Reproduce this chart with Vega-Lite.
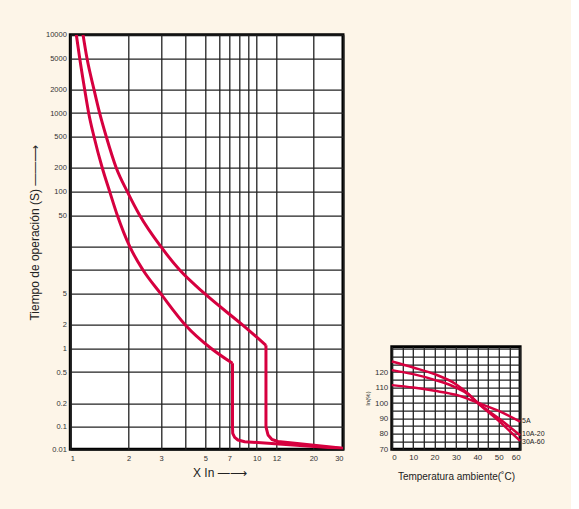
{
  "$schema": "https://vega.github.io/schema/vega-lite/v6.json",
  "background": "#fdf5e8",
  "padding": {"left": 26.3, "top": 28.7, "right": 25, "bottom": 30},
  "spacing": 17.5,
  "config": {
    "font": "Liberation Sans",
    "view": {"stroke": "#000", "strokeWidth": 3, "fill": "#ffffff"},
    "axis": {
      "labelFont": "Liberation Sans", "labelColor": "#333", "ticks": false, "domain": false,
      "gridColor": "#222", "gridWidth": 1.3, "gridOpacity": 1,
      "titleFont": "Liberation Sans", "titleFontWeight": "normal", "titleColor": "#222"
    }
  },
  "hconcat": [
    {
      "width": 272.7,
      "height": 414.6,
      "encoding": {
        "x": {
          "field": "x", "type": "quantitative",
          "scale": {"type": "log", "nice": false,
            "domain": [1,2,3,4,5,6,7,8,9,10,12,20,30],
            "range": [0,58.4,90.7,115,135,148.5,159,169.2,178.4,186.4,206.2,243,272.7]},
          "axis": {
            "values": [1,2,3,4,5,6,7,8,9,10,12,20,30],
            "labelExpr": "indexof([4,6,8,9], datum.value) >= 0 ? '' : datum.label",
            "format": "~g", "labelFontSize": 7.5, "labelPadding": 5,
            "title": "X In —⟶", "titleFontSize": 12, "titlePadding": 6, "titleX": 149, "titleAlign": "center"
          }
        },
        "y": {
          "field": "t", "type": "quantitative",
          "scale": {"type": "log", "nice": false, "domain": [0.01, 0.1, 10000], "range": [414.6, 392.3, 0]},
          "axis": {
            "values": [0.01,0.1,0.2,0.5,1,2,5,10,20,50,100,200,500,1000,2000,5000,10000],
            "labelExpr": "datum.value == 10 || datum.value == 20 ? '' : datum.label",
            "format": "~g", "labelFontSize": 7.5, "labelPadding": 4,
            "title": "Tiempo de operación (S) ——⟶", "titleFontSize": 12, "titlePadding": 4, "titleY": 197.5, "titleAlign": "center"
          }
        },
        "detail": {"field": "c"},
        "order": {"field": "i"}
      },
      "layer": [
        {
          "data": {"values": [
            {"c":"A","i":0,"x":1.074,"t":10000},{"c":"A","i":1,"x":1.118,"t":5000},{"c":"A","i":2,"x":1.186,"t":2000},
            {"c":"A","i":3,"x":1.244,"t":1000},{"c":"A","i":4,"x":1.325,"t":500},{"c":"A","i":5,"x":1.462,"t":200},
            {"c":"A","i":6,"x":1.596,"t":100},{"c":"A","i":7,"x":1.747,"t":50},{"c":"A","i":8,"x":2.025,"t":20},
            {"c":"A","i":9,"x":2.393,"t":10},{"c":"A","i":10,"x":2.99,"t":5},{"c":"A","i":11,"x":4.0,"t":2},
            {"c":"A","i":12,"x":5.42,"t":1.0},{"c":"A","i":13,"x":7.3,"t":0.648},
            {"c":"B","i":0,"x":1.163,"t":10000},{"c":"B","i":1,"x":1.219,"t":5000},{"c":"B","i":2,"x":1.325,"t":2000},
            {"c":"B","i":3,"x":1.417,"t":1000},{"c":"B","i":4,"x":1.533,"t":500},{"c":"B","i":5,"x":1.726,"t":200},
            {"c":"B","i":6,"x":1.967,"t":100},{"c":"B","i":7,"x":2.296,"t":50},{"c":"B","i":8,"x":2.99,"t":20},
            {"c":"B","i":9,"x":3.745,"t":10},{"c":"B","i":10,"x":4.97,"t":5},{"c":"B","i":11,"x":8.31,"t":2},
            {"c":"B","i":12,"x":10.89,"t":1.1}
          ]},
          "mark": {"type": "line", "color": "#d6003f", "strokeWidth": 3, "strokeJoin": "round", "interpolate": "monotone", "clip": true}
        },
        {
          "data": {"values": [
            {"c":"A","i":13,"x":7.3,"t":0.648},{"c":"A","i":14,"x":7.3,"t":0.1},{"c":"A","i":15,"x":7.32,"t":0.0522},
            {"c":"A","i":16,"x":7.51,"t":0.0345},{"c":"A","i":17,"x":7.84,"t":0.0261},{"c":"A","i":18,"x":8.55,"t":0.0219},
            {"c":"A","i":19,"x":30,"t":0.0108},
            {"c":"B","i":12,"x":10.89,"t":1.1},
            {"c":"B","i":13,"x":10.89,"t":0.1},{"c":"B","i":14,"x":11.1,"t":0.0438},{"c":"B","i":15,"x":11.51,"t":0.0275},
            {"c":"B","i":16,"x":12.25,"t":0.0224},{"c":"B","i":17,"x":30,"t":0.0111}
          ]},
          "mark": {"type": "line", "color": "#d6003f", "strokeWidth": 3, "strokeJoin": "round", "clip": true}
        }
      ]
    },
    {
      "spacing": 0,
      "vconcat": [
        {
          "width": 128.3,
          "height": 307.5,
          "data": {"values": []},
          "mark": {"type": "text"},
          "view": {"stroke": null, "fill": null}
        },
        {
          "width": 128.3,
          "height": 102.6,
          "data": {"values": [
            {"s":"5A","x":0,"v":111.6},{"s":"5A","x":10,"v":110},{"s":"5A","x":20,"v":107.9},{"s":"5A","x":30,"v":105.3},
            {"s":"5A","x":40,"v":100.3},{"s":"5A","x":50,"v":94.9},{"s":"5A","x":60,"v":87.9},
            {"s":"10A-20","x":0,"v":121.3},{"s":"10A-20","x":10,"v":118.7},{"s":"10A-20","x":20,"v":115},{"s":"10A-20","x":30,"v":110},
            {"s":"10A-20","x":36,"v":105.3},{"s":"10A-20","x":40,"v":100.3},{"s":"10A-20","x":50,"v":90.1},{"s":"10A-20","x":60,"v":79.1},
            {"s":"30A-60","x":0,"v":126.9},{"s":"30A-60","x":10,"v":123},{"s":"30A-60","x":20,"v":118.7},{"s":"30A-60","x":30,"v":112.2},
            {"s":"30A-60","x":36,"v":105.7},{"s":"30A-60","x":40,"v":100.3},{"s":"30A-60","x":50,"v":88.4},{"s":"30A-60","x":60,"v":75.4}
          ]},
          "encoding": {
            "x": {
              "field": "x", "type": "quantitative",
              "scale": {"domain": [0, 60], "nice": false},
              "axis": {
                "values": [0,5,10,15,20,25,30,35,40,45,50,55,60],
                "labelExpr": "datum.value % 10 == 0 ? datum.label : ''",
                "labelFontSize": 8, "labelPadding": 4, "labelOverlap": false,
                "title": "Temperatura ambiente(˚C)", "titleFontSize": 10, "titlePadding": 10
              }
            },
            "y": {
              "field": "v", "type": "quantitative",
              "scale": {"domain": [70, 136.5], "nice": false, "zero": false},
              "axis": {
                "values": [70,75,80,85,90,95,100,105,110,115,120,125,130,135],
                "labelExpr": "datum.value % 10 == 0 && datum.value <= 120 ? datum.label : ''",
                "labelFontSize": 8, "labelPadding": 4, "labelOverlap": false,
                "title": "In(%)", "titleFontSize": 6, "titlePadding": 4
              }
            }
          },
          "layer": [
            {
              "mark": {"type": "line", "color": "#d6003f", "strokeWidth": 2.5, "interpolate": "monotone"},
              "encoding": {"detail": {"field": "s"}}
            },
            {
              "data": {"values": [
                {"s":"5A","x":60,"v":88.4},{"s":"10A-20","x":60,"v":79.9},{"s":"30A-60","x":60,"v":74.7}
              ]},
              "mark": {"type": "text", "align": "left", "baseline": "middle", "dx": 2, "fontSize": 7, "color": "#222"},
              "encoding": {"text": {"field": "s"}}
            }
          ]
        }
      ]
    }
  ]
}
